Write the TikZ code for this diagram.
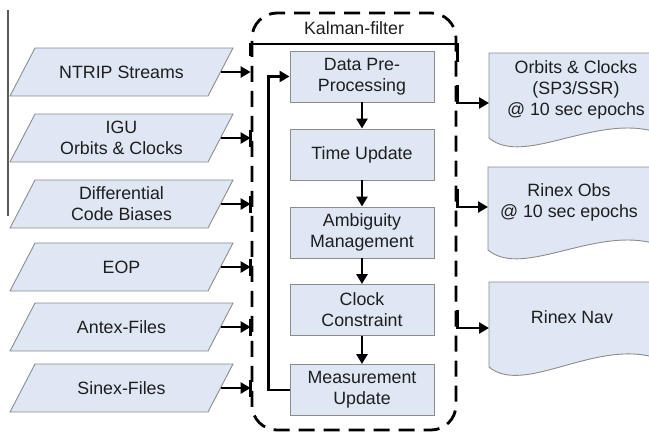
\documentclass[tikz,border=0pt]{standalone}
\usepackage{fontspec}
\setmainfont{Liberation Sans}
\usetikzlibrary{arrows.meta}
\definecolor{boxfill}{RGB}{222,231,243}
\definecolor{boxline}{RGB}{140,140,140}
\definecolor{txt}{RGB}{30,30,30}
\begin{document}
\begin{tikzpicture}[x=1pt,y=-1pt,
  font=\fontsize{17.8}{20.8}\selectfont, text=txt,
  arr/.style={line width=2.8pt, -{Triangle[length=10pt,width=11pt]}},
  edgetick/.style={line width=2.8pt},
  procbox/.style={draw=boxline, line width=0.9pt, fill=boxfill, minimum width=144pt, minimum height=51pt, align=center, inner sep=0pt},
  intext/.style={minimum width=198pt, minimum height=48pt, inner sep=0pt, align=center},
  shapefill/.style={draw=boxline, line width=0.9pt, fill=boxfill},
  doctext/.style={align=center, inner sep=0pt},
]
\useasboundingbox (0,0) rectangle (649,432);

% left thin line
\draw[line width=1.2pt, draw={rgb,255:red,90;green,90;blue,90}] (8,10) -- (8,216);

% input parallelograms
\foreach \nm/\yy/\tx in {ntrip/72/{NTRIP Streams}, igu/138/{IGU\\Orbits \& Clocks}, dcb/204/{Differential\\Code Biases}, eop/267/{EOP}, antex/327/{Antex-Files}, sinex/388/{Sinex-Files}} {
  \path[shapefill] (10,\yy+24) -- (35,\yy-24) -- (233,\yy-24) -- (208,\yy+24) -- cycle;
  \node[intext] (\nm) at (121.5,\yy) {\tx};
}

% Kalman filter box
\node[draw, line width=2.8pt, dash pattern=on 16pt off 9pt, dash phase=4pt, rounded corners=25pt, minimum width=204pt, minimum height=417pt, inner sep=0pt] (kf) at (354,221.5) {};
\node (kflabel) at (354,28) {Kalman-filter};
\coordinate (hdr) at (0,44);
\draw[line width=2.8pt] ([yshift=-12pt]kf.west |- hdr) -- (kf.west |- hdr) -- (kf.east |- hdr) -- ([yshift=-18pt]kf.east |- hdr);

% process boxes
\node[procbox] (dpp) at (362,76.5) {Data Pre-\\Processing};
\node[procbox] (tu) at (362,154.5) {Time Update};
\node[procbox] (am) at (362,232.5) {Ambiguity\\Management};
\node[procbox] (cc) at (362,310) {Clock\\Constraint};
\node[procbox] (mu) at (362,390) {Measurement\\Update};

\draw[arr] (dpp) -- (tu);
\draw[arr] (tu) -- (am);
\draw[arr] (am) -- (cc);
\draw[arr] (cc) -- (mu);
\draw[arr] (mu.west) -- ++(-21,0) |- (dpp.west);

% input arrows
\draw[arr] (ntrip.east) -- (ntrip.east -| kf.west);
\foreach \nm in {igu,dcb,eop,antex,sinex} {
  \draw[arr] (\nm.east) -- (\nm.east -| kf.west);
  \draw[edgetick] ([yshift=8.5pt]\nm.east -| kf.west) -- ([yshift=-8.5pt]\nm.east -| kf.west);
}

% output documents
\path[shapefill] (489,53) -- (662,53) -- (662,134) .. controls (600,110) and (525,168) .. (489,138) -- cycle;
\path[shapefill] (488,167) -- (662,167) -- (662,246) .. controls (600,222) and (524,280) .. (488,250) -- cycle;
\path[shapefill] (489,282) -- (662,282) -- (662,360) .. controls (600,335) and (525,397) .. (489,367) -- cycle;

\node[doctext] (orb) at (576,90) {Orbits \& Clocks\\(SP3/SSR)\\@ 10 sec epochs};
\node[doctext] (obs) at (569,202) {Rinex Obs\\@ 10 sec epochs};
\node[doctext] (nav) at (572,317) {Rinex Nav};

\coordinate (orbin) at (489,103);
\coordinate (obsin) at (488,207);
\coordinate (navin) at (489,328);
\foreach \c in {orbin,obsin,navin} {
  \draw[arr] (\c -| kf.east) -- (\c);
  \draw[edgetick] ([yshift=18pt]\c -| kf.east) -- ([yshift=-1.4pt]\c -| kf.east);
}
\end{tikzpicture}
\end{document}
